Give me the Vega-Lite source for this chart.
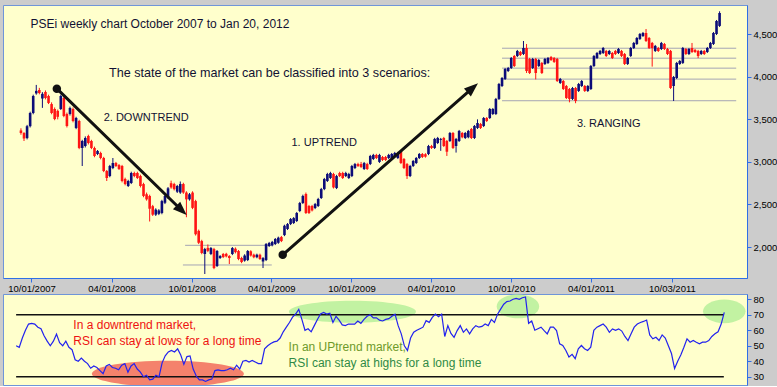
{
"$schema":"https://vega.github.io/schema/vega-lite/v6.json",
"background":"#cccccc",
"padding":{"left":2,"top":4,"right":0,"bottom":0},
"bounds":"flush",
"spacing":16,
"config":{
 "view":{"fill":"#ffffcc","stroke":"#6f95d8","strokeWidth":1},
 "axis":{"grid":false,"domainColor":"#2f6fe6","tickColor":"#2f6fe6","labelColor":"#000000","labelFont":"Liberation Sans","labelFontSize":9.5,"tickSize":4}
},
"datasets":{
"w":[
{"d":"2007-09-07","o":3370,"h":3395,"l":3320,"c":3340,"r":50},
{"d":"2007-09-14","o":3340,"h":3350,"l":3246,"c":3275,"r":49},
{"d":"2007-09-21","o":3280,"h":3435,"l":3265,"c":3420,"r":55},
{"d":"2007-09-28","o":3420,"h":3590,"l":3405,"c":3575,"r":60},
{"d":"2007-10-05","o":3575,"h":3790,"l":3560,"c":3775,"r":64},
{"d":"2007-10-12","o":3805,"h":3905,"l":3790,"c":3835,"r":64.5},
{"d":"2007-10-19","o":3845,"h":3870,"l":3795,"c":3810,"r":64},
{"d":"2007-10-26","o":3745,"h":3820,"l":3635,"c":3800,"r":62},
{"d":"2007-11-02","o":3822,"h":3840,"l":3735,"c":3751,"r":61},
{"d":"2007-11-09","o":3775,"h":3790,"l":3680,"c":3693,"r":56.5},
{"d":"2007-11-16","o":3680,"h":3700,"l":3560,"c":3575,"r":53},
{"d":"2007-11-23","o":3622,"h":3640,"l":3490,"c":3504,"r":50},
{"d":"2007-11-30","o":3600,"h":3615,"l":3500,"c":3530,"r":53},
{"d":"2007-12-07","o":3622,"h":3790,"l":3610,"c":3775,"r":57.5},
{"d":"2007-12-14","o":3751,"h":3765,"l":3525,"c":3540,"r":52},
{"d":"2007-12-21","o":3563,"h":3580,"l":3405,"c":3422,"r":50},
{"d":"2007-12-28","o":3563,"h":3650,"l":3545,"c":3634,"r":53},
{"d":"2008-01-04","o":3622,"h":3640,"l":3465,"c":3481,"r":49},
{"d":"2008-01-11","o":3399,"h":3530,"l":3385,"c":3516,"r":47.5},
{"d":"2008-01-18","o":3481,"h":3495,"l":3150,"c":3164,"r":41},
{"d":"2008-01-25","o":3164,"h":3260,"l":2952,"c":3246,"r":40},
{"d":"2008-02-01","o":3187,"h":3300,"l":3170,"c":3281,"r":42},
{"d":"2008-02-08","o":3305,"h":3320,"l":3205,"c":3222,"r":40},
{"d":"2008-02-15","o":3246,"h":3260,"l":3150,"c":3164,"r":38.5},
{"d":"2008-02-22","o":3164,"h":3180,"l":3055,"c":3070,"r":35.5},
{"d":"2008-02-29","o":3093,"h":3140,"l":3080,"c":3128,"r":37},
{"d":"2008-03-07","o":3105,"h":3120,"l":3030,"c":3046,"r":36},
{"d":"2008-03-14","o":3046,"h":3060,"l":2880,"c":2893,"r":34},
{"d":"2008-03-21","o":2893,"h":2905,"l":2776,"c":2811,"r":32},
{"d":"2008-03-28","o":2834,"h":2965,"l":2820,"c":2952,"r":37},
{"d":"2008-04-04","o":2928,"h":3046,"l":2915,"c":2987,"r":38},
{"d":"2008-04-11","o":2987,"h":3000,"l":2940,"c":2952,"r":36},
{"d":"2008-04-18","o":2963,"h":2975,"l":2905,"c":2917,"r":35.5},
{"d":"2008-04-25","o":2952,"h":2965,"l":2760,"c":2776,"r":34.5},
{"d":"2008-05-02","o":2800,"h":2815,"l":2725,"c":2740,"r":37.5},
{"d":"2008-05-09","o":2717,"h":2790,"l":2705,"c":2776,"r":38.5},
{"d":"2008-05-16","o":2752,"h":2885,"l":2740,"c":2870,"r":33},
{"d":"2008-05-23","o":2870,"h":2885,"l":2820,"c":2834,"r":37},
{"d":"2008-05-30","o":2870,"h":2885,"l":2800,"c":2811,"r":38.5},
{"d":"2008-06-06","o":2834,"h":2850,"l":2700,"c":2717,"r":35},
{"d":"2008-06-13","o":2740,"h":2755,"l":2585,"c":2600,"r":33},
{"d":"2008-06-20","o":2620,"h":2640,"l":2545,"c":2560,"r":30},
{"d":"2008-06-27","o":2600,"h":2615,"l":2300,"c":2450,"r":31},
{"d":"2008-07-04","o":2480,"h":2495,"l":2365,"c":2380,"r":28},
{"d":"2008-07-11","o":2380,"h":2455,"l":2365,"c":2440,"r":28.5},
{"d":"2008-07-18","o":2390,"h":2445,"l":2375,"c":2430,"r":31},
{"d":"2008-07-25","o":2400,"h":2555,"l":2385,"c":2540,"r":30},
{"d":"2008-08-01","o":2520,"h":2615,"l":2505,"c":2600,"r":39},
{"d":"2008-08-08","o":2580,"h":2705,"l":2565,"c":2690,"r":43.5},
{"d":"2008-08-15","o":2750,"h":2780,"l":2685,"c":2700,"r":46},
{"d":"2008-08-22","o":2740,"h":2755,"l":2665,"c":2680,"r":47},
{"d":"2008-08-29","o":2650,"h":2730,"l":2635,"c":2717,"r":46},
{"d":"2008-09-05","o":2640,"h":2770,"l":2625,"c":2740,"r":48},
{"d":"2008-09-12","o":2740,"h":2755,"l":2625,"c":2640,"r":44},
{"d":"2008-09-19","o":2640,"h":2655,"l":2350,"c":2560,"r":38},
{"d":"2008-09-26","o":2560,"h":2635,"l":2545,"c":2620,"r":43},
{"d":"2008-10-03","o":2640,"h":2655,"l":2445,"c":2460,"r":43.5},
{"d":"2008-10-10","o":2540,"h":2555,"l":2135,"c":2150,"r":35},
{"d":"2008-10-17","o":2190,"h":2205,"l":2035,"c":2050,"r":30.5},
{"d":"2008-10-24","o":2070,"h":2085,"l":1915,"c":1930,"r":28},
{"d":"2008-10-31","o":1918,"h":1990,"l":1683,"c":1976,"r":28},
{"d":"2008-11-07","o":1990,"h":2030,"l":1940,"c":1955,"r":27},
{"d":"2008-11-14","o":1918,"h":2000,"l":1905,"c":1988,"r":28},
{"d":"2008-11-21","o":1976,"h":1990,"l":1740,"c":1753,"r":28.5},
{"d":"2008-11-28","o":1777,"h":1965,"l":1765,"c":1953,"r":34},
{"d":"2008-12-05","o":1871,"h":1905,"l":1860,"c":1894,"r":34.5},
{"d":"2008-12-12","o":1918,"h":1930,"l":1870,"c":1882,"r":34},
{"d":"2008-12-19","o":1920,"h":1932,"l":1878,"c":1890,"r":34},
{"d":"2008-12-26","o":1894,"h":1905,"l":1800,"c":1871,"r":34.5},
{"d":"2009-01-02","o":1918,"h":2000,"l":1905,"c":1988,"r":35.5},
{"d":"2009-01-09","o":1980,"h":1995,"l":1925,"c":1940,"r":34.5},
{"d":"2009-01-16","o":1953,"h":1965,"l":1845,"c":1859,"r":37.5},
{"d":"2009-01-23","o":1871,"h":1885,"l":1810,"c":1824,"r":35},
{"d":"2009-01-30","o":1840,"h":1915,"l":1828,"c":1900,"r":40},
{"d":"2009-02-06","o":1847,"h":1965,"l":1835,"c":1953,"r":40.5},
{"d":"2009-02-13","o":1950,"h":1962,"l":1888,"c":1900,"r":39.5},
{"d":"2009-02-20","o":1910,"h":1922,"l":1868,"c":1880,"r":40.5},
{"d":"2009-02-27","o":1880,"h":1922,"l":1868,"c":1910,"r":39.5},
{"d":"2009-03-06","o":1910,"h":1922,"l":1848,"c":1860,"r":38.5},
{"d":"2009-03-13","o":1830,"h":1882,"l":1753,"c":1870,"r":38.5},
{"d":"2009-03-20","o":1847,"h":2047,"l":1835,"c":2035,"r":48},
{"d":"2009-03-27","o":2012,"h":2060,"l":2000,"c":2047,"r":50},
{"d":"2009-04-03","o":2020,"h":2072,"l":2008,"c":2060,"r":51.5},
{"d":"2009-04-10","o":2035,"h":2106,"l":2023,"c":2094,"r":52.5},
{"d":"2009-04-17","o":2050,"h":2122,"l":2038,"c":2110,"r":53},
{"d":"2009-04-24","o":2117,"h":2130,"l":2058,"c":2070,"r":55},
{"d":"2009-05-01","o":2140,"h":2262,"l":2128,"c":2250,"r":59},
{"d":"2009-05-08","o":2212,"h":2282,"l":2200,"c":2270,"r":62},
{"d":"2009-05-15","o":2270,"h":2341,"l":2258,"c":2329,"r":65},
{"d":"2009-05-22","o":2282,"h":2352,"l":2270,"c":2340,"r":68.5},
{"d":"2009-05-29","o":2306,"h":2412,"l":2294,"c":2400,"r":70.5},
{"d":"2009-06-05","o":2423,"h":2530,"l":2410,"c":2517,"r":73.5},
{"d":"2009-06-12","o":2517,"h":2615,"l":2505,"c":2600,"r":67},
{"d":"2009-06-19","o":2623,"h":2640,"l":2388,"c":2400,"r":60},
{"d":"2009-06-26","o":2482,"h":2495,"l":2388,"c":2400,"r":61},
{"d":"2009-07-03","o":2482,"h":2495,"l":2418,"c":2430,"r":59},
{"d":"2009-07-10","o":2458,"h":2518,"l":2445,"c":2505,"r":63},
{"d":"2009-07-17","o":2482,"h":2578,"l":2470,"c":2564,"r":67},
{"d":"2009-07-24","o":2576,"h":2695,"l":2564,"c":2681,"r":70.5},
{"d":"2009-07-31","o":2681,"h":2812,"l":2668,"c":2799,"r":71.5},
{"d":"2009-08-07","o":2776,"h":2872,"l":2764,"c":2858,"r":70.5},
{"d":"2009-08-14","o":2811,"h":2884,"l":2799,"c":2870,"r":71},
{"d":"2009-08-21","o":2858,"h":2872,"l":2688,"c":2700,"r":65},
{"d":"2009-08-28","o":2693,"h":2848,"l":2681,"c":2834,"r":69},
{"d":"2009-09-04","o":2870,"h":2884,"l":2822,"c":2834,"r":66.5},
{"d":"2009-09-11","o":2870,"h":2884,"l":2799,"c":2811,"r":63.5},
{"d":"2009-09-18","o":2834,"h":2884,"l":2822,"c":2870,"r":63},
{"d":"2009-09-25","o":2811,"h":2872,"l":2799,"c":2858,"r":64},
{"d":"2009-10-02","o":2834,"h":2965,"l":2822,"c":2952,"r":64},
{"d":"2009-10-09","o":2928,"h":2988,"l":2916,"c":2975,"r":64},
{"d":"2009-10-16","o":2975,"h":2990,"l":2940,"c":2952,"r":66},
{"d":"2009-10-23","o":2975,"h":3000,"l":2928,"c":2940,"r":64.5},
{"d":"2009-10-30","o":2917,"h":3000,"l":2905,"c":2987,"r":67},
{"d":"2009-11-06","o":2975,"h":2990,"l":2905,"c":2917,"r":69},
{"d":"2009-11-13","o":2975,"h":3083,"l":2963,"c":3070,"r":70},
{"d":"2009-11-20","o":3034,"h":3095,"l":3022,"c":3082,"r":68},
{"d":"2009-11-27","o":3082,"h":3095,"l":3034,"c":3046,"r":68},
{"d":"2009-12-04","o":3000,"h":3095,"l":2988,"c":3082,"r":66.5},
{"d":"2009-12-11","o":3058,"h":3070,"l":3011,"c":3023,"r":66},
{"d":"2009-12-18","o":3058,"h":3070,"l":3011,"c":3023,"r":67},
{"d":"2009-12-25","o":3046,"h":3095,"l":3034,"c":3082,"r":67.5},
{"d":"2010-01-01","o":3046,"h":3105,"l":3034,"c":3093,"r":69},
{"d":"2010-01-08","o":3070,"h":3118,"l":3058,"c":3105,"r":70.4},
{"d":"2010-01-15","o":3046,"h":3118,"l":3034,"c":3105,"r":63},
{"d":"2010-01-22","o":3128,"h":3140,"l":2975,"c":2987,"r":57.7},
{"d":"2010-01-29","o":3034,"h":3046,"l":2916,"c":2928,"r":50},
{"d":"2010-02-05","o":2975,"h":2988,"l":2800,"c":2834,"r":47},
{"d":"2010-02-12","o":2834,"h":2965,"l":2822,"c":2952,"r":55},
{"d":"2010-02-19","o":2952,"h":3023,"l":2940,"c":3011,"r":58.7},
{"d":"2010-02-26","o":2987,"h":3058,"l":2975,"c":3046,"r":60},
{"d":"2010-03-05","o":3046,"h":3105,"l":3034,"c":3093,"r":61},
{"d":"2010-03-12","o":3093,"h":3105,"l":3046,"c":3058,"r":62},
{"d":"2010-03-19","o":3090,"h":3102,"l":3050,"c":3062,"r":66.2},
{"d":"2010-03-26","o":3093,"h":3200,"l":3080,"c":3187,"r":65.1},
{"d":"2010-04-02","o":3187,"h":3200,"l":3152,"c":3164,"r":68.3},
{"d":"2010-04-09","o":3164,"h":3283,"l":3152,"c":3270,"r":70.4},
{"d":"2010-04-16","o":3222,"h":3294,"l":3210,"c":3281,"r":68.7},
{"d":"2010-04-23","o":3260,"h":3282,"l":3130,"c":3270,"r":70.4},
{"d":"2010-04-30","o":3281,"h":3294,"l":3175,"c":3187,"r":56},
{"d":"2010-05-07","o":3246,"h":3258,"l":3070,"c":3120,"r":63},
{"d":"2010-05-14","o":3246,"h":3352,"l":3234,"c":3340,"r":58},
{"d":"2010-05-21","o":3340,"h":3352,"l":3152,"c":3164,"r":55.5},
{"d":"2010-05-28","o":3187,"h":3282,"l":3110,"c":3270,"r":59.8},
{"d":"2010-06-04","o":3246,"h":3376,"l":3234,"c":3364,"r":63},
{"d":"2010-06-11","o":3340,"h":3352,"l":3278,"c":3290,"r":58.7},
{"d":"2010-06-18","o":3281,"h":3352,"l":3269,"c":3340,"r":60.9},
{"d":"2010-06-25","o":3290,"h":3376,"l":3278,"c":3364,"r":57.7},
{"d":"2010-07-02","o":3387,"h":3399,"l":3269,"c":3281,"r":60.9},
{"d":"2010-07-09","o":3281,"h":3434,"l":3269,"c":3422,"r":63},
{"d":"2010-07-16","o":3399,"h":3500,"l":3387,"c":3457,"r":62},
{"d":"2010-07-23","o":3446,"h":3458,"l":3387,"c":3399,"r":62.5},
{"d":"2010-07-30","o":3422,"h":3528,"l":3410,"c":3516,"r":64},
{"d":"2010-08-06","o":3516,"h":3528,"l":3469,"c":3481,"r":63},
{"d":"2010-08-13","o":3516,"h":3634,"l":3504,"c":3622,"r":67},
{"d":"2010-08-20","o":3563,"h":3634,"l":3551,"c":3622,"r":65},
{"d":"2010-08-27","o":3563,"h":3752,"l":3551,"c":3740,"r":70.4},
{"d":"2010-09-03","o":3740,"h":3928,"l":3728,"c":3916,"r":73.6},
{"d":"2010-09-10","o":3892,"h":3998,"l":3880,"c":3986,"r":76.8},
{"d":"2010-09-17","o":3975,"h":4104,"l":3963,"c":4092,"r":78.5},
{"d":"2010-09-24","o":4068,"h":4116,"l":4056,"c":4104,"r":78.9},
{"d":"2010-10-01","o":4104,"h":4233,"l":4092,"c":4221,"r":80},
{"d":"2010-10-08","o":4245,"h":4257,"l":4115,"c":4127,"r":80.6},
{"d":"2010-10-15","o":4245,"h":4316,"l":4233,"c":4304,"r":80},
{"d":"2010-10-22","o":4292,"h":4304,"l":4244,"c":4256,"r":81},
{"d":"2010-10-29","o":4268,"h":4421,"l":4256,"c":4339,"r":81.5},
{"d":"2010-11-05","o":4339,"h":4386,"l":4045,"c":4068,"r":64.5},
{"d":"2010-11-12","o":4210,"h":4222,"l":4033,"c":4045,"r":66},
{"d":"2010-11-19","o":4104,"h":4222,"l":4092,"c":4210,"r":60},
{"d":"2010-11-26","o":4210,"h":4222,"l":3970,"c":4045,"r":61},
{"d":"2010-12-03","o":4127,"h":4210,"l":4115,"c":4198,"r":62},
{"d":"2010-12-10","o":4163,"h":4175,"l":4033,"c":4045,"r":59.8},
{"d":"2010-12-17","o":4151,"h":4222,"l":4139,"c":4210,"r":57.7},
{"d":"2010-12-24","o":4163,"h":4233,"l":4151,"c":4221,"r":62},
{"d":"2010-12-31","o":4233,"h":4245,"l":4186,"c":4198,"r":62},
{"d":"2011-01-07","o":4221,"h":4233,"l":4163,"c":4175,"r":59.8},
{"d":"2011-01-14","o":4210,"h":4222,"l":3939,"c":3951,"r":51.3},
{"d":"2011-01-21","o":3928,"h":3987,"l":3916,"c":3975,"r":50.2},
{"d":"2011-01-28","o":3951,"h":3963,"l":3845,"c":3857,"r":47},
{"d":"2011-02-04","o":3892,"h":3904,"l":3739,"c":3751,"r":42.8},
{"d":"2011-02-11","o":3857,"h":3869,"l":3700,"c":3740,"r":44.5},
{"d":"2011-02-18","o":3740,"h":3881,"l":3728,"c":3869,"r":41.7},
{"d":"2011-02-25","o":3869,"h":3881,"l":3690,"c":3716,"r":48.1},
{"d":"2011-03-04","o":3834,"h":3928,"l":3822,"c":3916,"r":50.2},
{"d":"2011-03-11","o":3892,"h":3963,"l":3880,"c":3951,"r":48.1},
{"d":"2011-03-18","o":3892,"h":3904,"l":3822,"c":3834,"r":47},
{"d":"2011-03-25","o":3834,"h":3904,"l":3822,"c":3892,"r":49.1},
{"d":"2011-04-01","o":3857,"h":4139,"l":3845,"c":4127,"r":60},
{"d":"2011-04-08","o":4127,"h":4257,"l":4115,"c":4245,"r":62},
{"d":"2011-04-15","o":4221,"h":4292,"l":4209,"c":4280,"r":63},
{"d":"2011-04-22","o":4268,"h":4316,"l":4256,"c":4304,"r":64},
{"d":"2011-04-29","o":4280,"h":4351,"l":4268,"c":4339,"r":62},
{"d":"2011-05-06","o":4304,"h":4316,"l":4233,"c":4245,"r":58.7},
{"d":"2011-05-13","o":4268,"h":4316,"l":4256,"c":4304,"r":60.9},
{"d":"2011-05-20","o":4280,"h":4292,"l":4209,"c":4221,"r":60},
{"d":"2011-05-27","o":4304,"h":4316,"l":4256,"c":4268,"r":60.9},
{"d":"2011-06-03","o":4280,"h":4339,"l":4268,"c":4327,"r":59.5},
{"d":"2011-06-10","o":4304,"h":4316,"l":4233,"c":4245,"r":56},
{"d":"2011-06-17","o":4268,"h":4280,"l":4139,"c":4151,"r":53.4},
{"d":"2011-06-24","o":4151,"h":4233,"l":4139,"c":4221,"r":57.7},
{"d":"2011-07-01","o":4245,"h":4351,"l":4233,"c":4339,"r":62},
{"d":"2011-07-08","o":4339,"h":4410,"l":4327,"c":4398,"r":64},
{"d":"2011-07-15","o":4386,"h":4468,"l":4374,"c":4456,"r":65},
{"d":"2011-07-22","o":4445,"h":4515,"l":4433,"c":4503,"r":65.7},
{"d":"2011-07-29","o":4480,"h":4527,"l":4468,"c":4515,"r":66.6},
{"d":"2011-08-05","o":4515,"h":4562,"l":4409,"c":4421,"r":57},
{"d":"2011-08-12","o":4456,"h":4468,"l":4327,"c":4339,"r":54.5},
{"d":"2011-08-19","o":4398,"h":4410,"l":4120,"c":4339,"r":55.5},
{"d":"2011-08-26","o":4304,"h":4375,"l":4292,"c":4363,"r":53.4},
{"d":"2011-09-02","o":4339,"h":4351,"l":4292,"c":4304,"r":57},
{"d":"2011-09-09","o":4327,"h":4410,"l":4315,"c":4398,"r":55},
{"d":"2011-09-16","o":4386,"h":4398,"l":4315,"c":4327,"r":50},
{"d":"2011-09-23","o":4327,"h":4339,"l":4256,"c":4268,"r":45},
{"d":"2011-09-30","o":4304,"h":4316,"l":3857,"c":3869,"r":35.3},
{"d":"2011-10-07","o":3892,"h":4010,"l":3716,"c":3998,"r":40},
{"d":"2011-10-14","o":3986,"h":4175,"l":3974,"c":4163,"r":44},
{"d":"2011-10-21","o":4151,"h":4198,"l":4139,"c":4186,"r":49},
{"d":"2011-10-28","o":4163,"h":4351,"l":4151,"c":4339,"r":54.5},
{"d":"2011-11-04","o":4327,"h":4339,"l":4256,"c":4268,"r":52.3},
{"d":"2011-11-11","o":4268,"h":4339,"l":4256,"c":4327,"r":53.4},
{"d":"2011-11-18","o":4339,"h":4398,"l":4280,"c":4292,"r":52.3},
{"d":"2011-11-25","o":4316,"h":4328,"l":4280,"c":4292,"r":51.3},
{"d":"2011-12-02","o":4304,"h":4316,"l":4220,"c":4245,"r":52.3},
{"d":"2011-12-09","o":4268,"h":4316,"l":4256,"c":4304,"r":52.3},
{"d":"2011-12-16","o":4304,"h":4316,"l":4256,"c":4268,"r":53.4},
{"d":"2011-12-23","o":4292,"h":4351,"l":4280,"c":4339,"r":56},
{"d":"2011-12-30","o":4339,"h":4410,"l":4327,"c":4398,"r":57.7},
{"d":"2012-01-06","o":4386,"h":4527,"l":4374,"c":4515,"r":59},
{"d":"2012-01-13","o":4503,"h":4668,"l":4491,"c":4656,"r":64},
{"d":"2012-01-20","o":4598,"h":4770,"l":4586,"c":4750,"r":71.5}
],
"levels":[
{"x1":"2010-09-10","x2":"2012-02-27","v":4336},
{"x1":"2010-09-10","x2":"2012-02-27","v":4219},
{"x1":"2010-09-10","x2":"2012-02-27","v":4102},
{"x1":"2010-09-08","x2":"2012-02-27","v":3973},
{"x1":"2010-09-10","x2":"2012-02-27","v":3719},
{"x1":"2008-09-16","x2":"2009-04-03","v":2020},
{"x1":"2008-09-11","x2":"2009-04-02","v":1789}
],
"arrows":[
{"x1":"2007-11-28","v1":3861,"x2":"2008-09-08","v2":2432},
{"x1":"2009-04-27","v1":1909,"x2":"2010-07-05","v2":3870}
],
"dots":[
{"x":"2007-11-28","v":3861},
{"x":"2009-04-27","v":1909}
],
"rsilines":[
{"x1":"2007-09-07","x2":"2012-01-19","v":70},
{"x1":"2007-09-07","x2":"2012-01-19","v":30}
]
},
"vconcat":[
{
"width":744,"height":273,
"layer":[
{"data":{"name":"levels"},"mark":{"type":"rule","color":"#a4a4b4","strokeWidth":1},
 "encoding":{"x":{"field":"x1","type":"temporal","title":null,"scale":{"type":"utc","domain":[{"year":2007,"month":8,"date":8,"hours":10,"utc":true},{"year":2012,"month":3,"date":11,"hours":5,"utc":true}]},
   "axis":{"title":null,"values":[{"year":2007,"month":10,"date":1,"utc":true},{"year":2008,"month":4,"date":1,"utc":true},{"year":2008,"month":10,"date":1,"utc":true},{"year":2009,"month":4,"date":1,"utc":true},{"year":2009,"month":10,"date":1,"utc":true},{"year":2010,"month":4,"date":1,"utc":true},{"year":2010,"month":10,"date":1,"utc":true},{"year":2011,"month":4,"date":1,"utc":true},{"year":2011,"month":10,"date":3,"utc":true}],"tickCount":20,"format":"%m/%d/%Y","labelPadding":1,"labelOverlap":false,"labelFlush":false}},
  "x2":{"field":"x2"},
  "y":{"field":"v","type":"quantitative","title":null,"scale":{"domain":[1636,4844],"zero":false,"nice":false},
   "axis":{"title":null,"orient":"right","values":[2000,2500,3000,3500,4000,4500],"tickCount":10,"format":",.0f","labelPadding":2,"labelOverlap":false,"labelFlush":false}}}},
{"data":{"name":"w"},"mark":{"type":"rule","strokeWidth":1},
 "encoding":{"x":{"field":"d","type":"temporal","title":null,"scale":{"type":"utc"}},
  "y":{"field":"l","type":"quantitative","title":null},"y2":{"field":"h"},
  "color":{"condition":{"test":"datum.c >= datum.o","value":"#0c0c78"},"value":"#ff1414"}}},
{"data":{"name":"w"},"mark":{"type":"bar","size":2.6},
 "encoding":{"x":{"field":"d","type":"temporal","title":null,"scale":{"type":"utc"}},
  "y":{"field":"o","type":"quantitative","title":null},"y2":{"field":"c"},
  "color":{"condition":{"test":"datum.c >= datum.o","value":"#0c0c78"},"value":"#ff1414"}}},
{"data":{"name":"arrows"},"mark":{"type":"rule","color":"#111111","strokeWidth":3,"strokeCap":"round"},
 "encoding":{"x":{"field":"x1","type":"temporal","title":null,"scale":{"type":"utc"}},"x2":{"field":"x2"},
  "y":{"field":"v1","type":"quantitative","title":null},"y2":{"field":"v2"}}},
{"data":{"values":[{"x":"2008-09-08","v":2432}]},"mark":{"type":"point","shape":"M 1 0 L -1 -0.75 L -1 0.75 Z","filled":true,"size":196,"angle":43.8,"color":"#111111","opacity":1},
 "encoding":{"x":{"field":"x","type":"temporal","title":null,"scale":{"type":"utc"}},"y":{"field":"v","type":"quantitative","title":null}}},
{"data":{"values":[{"x":"2010-07-05","v":3870}]},"mark":{"type":"point","shape":"M 1 0 L -1 -0.75 L -1 0.75 Z","filled":true,"size":196,"angle":319.1,"color":"#111111","opacity":1},
 "encoding":{"x":{"field":"x","type":"temporal","title":null,"scale":{"type":"utc"}},"y":{"field":"v","type":"quantitative","title":null}}},
{"data":{"name":"dots"},"mark":{"type":"point","shape":"circle","filled":true,"size":72,"color":"#111111","opacity":1},
 "encoding":{"x":{"field":"x","type":"temporal","title":null,"scale":{"type":"utc"}},"y":{"field":"v","type":"quantitative","title":null}}},
{"data":{"values":[{"x":"2007-09-29","v":4571,"t":"PSEi weekly chart October 2007 to Jan 20, 2012"}]},
 "mark":{"type":"text","align":"left","baseline":"alphabetic","font":"Liberation Sans","fontSize":12,"color":"#111133"},
 "encoding":{"x":{"field":"x","type":"temporal","title":null,"scale":{"type":"utc"}},"y":{"field":"v","type":"quantitative","title":null},"text":{"field":"t"}}},
{"data":{"values":[{"x":"2008-03-26","v":3998,"t":"The state of the market can be classified into 3 scenarios:"}]},
 "mark":{"type":"text","align":"left","baseline":"alphabetic","font":"Liberation Sans","fontSize":12.6,"color":"#111133"},
 "encoding":{"x":{"field":"x","type":"temporal","title":null,"scale":{"type":"utc"}},"y":{"field":"v","type":"quantitative","title":null},"text":{"field":"t"}}},
{"data":{"values":[{"x":"2008-03-14","v":3481,"t":"2. DOWNTREND"},{"x":"2009-05-17","v":3187,"t":"1. UPTREND"},{"x":"2011-02-28","v":3410,"t":"3. RANGING"}]},
 "mark":{"type":"text","align":"left","baseline":"alphabetic","font":"Liberation Sans","fontSize":11,"color":"#111133"},
 "encoding":{"x":{"field":"x","type":"temporal","title":null,"scale":{"type":"utc"}},"y":{"field":"v","type":"quantitative","title":null},"text":{"field":"t"}}}
]
},
{
"width":744,"height":91,
"layer":[
{"data":{"values":[{"x":"2008-08-14","v":32}]},"mark":{"type":"point","shape":"M 1 0 C 1 0.094 0.552 0.171 0 0.171 C -0.552 0.171 -1 0.094 -1 0 C -1 -0.094 -0.552 -0.171 0 -0.171 C 0.552 -0.171 1 -0.094 1 0 Z","filled":true,"size":23104,"color":"#f4826c","opacity":1,"clip":true},
 "encoding":{"x":{"field":"x","type":"temporal","title":null,"scale":{"type":"utc","domain":[{"year":2007,"month":8,"date":8,"hours":10,"utc":true},{"year":2012,"month":3,"date":11,"hours":5,"utc":true}]},"axis":null},
  "y":{"field":"v","type":"quantitative","title":null,"scale":{"domain":[24.7,83.4],"zero":false,"nice":false},
   "axis":{"title":null,"orient":"right","values":[30,40,50,60,70,80],"tickCount":10,"labelPadding":2,"labelOverlap":false,"labelFlush":false}}}},
{"data":{"values":[{"x":"2009-10-04","v":71.9}]},"mark":{"type":"point","shape":"M 1 0 C 1 0.095 0.552 0.173 0 0.173 C -0.552 0.173 -1 0.095 -1 0 C -1 -0.095 -0.552 -0.173 0 -0.173 C 0.552 -0.173 1 -0.095 1 0 Z","filled":true,"size":16129,"color":"#c2f2a2","opacity":1,"clip":true},
 "encoding":{"x":{"field":"x","type":"temporal","title":null,"scale":{"type":"utc"}},"y":{"field":"v","type":"quantitative","title":null}}},
{"data":{"values":[{"x":"2010-10-12","v":75.4},{"x":"2012-01-20","v":72.2}]},"mark":{"type":"point","shape":"M 1 0 C 1 0.309 0.552 0.56 0 0.56 C -0.552 0.56 -1 0.309 -1 0 C -1 -0.309 -0.552 -0.56 0 -0.56 C 0.552 -0.56 1 -0.309 1 0 Z","filled":true,"size":1806,"color":"#c2f2a2","opacity":1,"clip":true},
 "encoding":{"x":{"field":"x","type":"temporal","title":null,"scale":{"type":"utc"}},"y":{"field":"v","type":"quantitative","title":null}}},
{"data":{"name":"rsilines"},"mark":{"type":"rule","color":"#111111","strokeWidth":1.5},
 "encoding":{"x":{"field":"x1","type":"temporal","title":null,"scale":{"type":"utc"}},"x2":{"field":"x2"},"y":{"field":"v","type":"quantitative","title":null}}},
{"data":{"name":"w"},"mark":{"type":"line","color":"#2222ee","strokeWidth":1.2},
 "encoding":{"x":{"field":"d","type":"temporal","title":null,"scale":{"type":"utc"}},"y":{"field":"r","type":"quantitative","title":null}}},
{"data":{"values":[{"x":"2008-01-14","v":60.6,"t":"In a downtrend market,"},{"x":"2008-01-14","v":50.7,"t":"RSI can stay at lows for a long time"}]},
 "mark":{"type":"text","align":"left","baseline":"alphabetic","font":"Liberation Sans","fontSize":12,"color":"#ee1111"},
 "encoding":{"x":{"field":"x","type":"temporal","title":null,"scale":{"type":"utc"}},"y":{"field":"v","type":"quantitative","title":null},"text":{"field":"t"}}},
{"data":{"values":[{"x":"2009-05-13","v":46.4,"t":"In an UPtrend market,"}]},
 "mark":{"type":"text","align":"left","baseline":"alphabetic","font":"Liberation Sans","fontSize":12,"color":"#6e9a2a"},
 "encoding":{"x":{"field":"x","type":"temporal","title":null,"scale":{"type":"utc"}},"y":{"field":"v","type":"quantitative","title":null},"text":{"field":"t"}}},
{"data":{"values":[{"x":"2009-05-13","v":36.4,"t":"RSI can stay at highs for a long time"}]},
 "mark":{"type":"text","align":"left","baseline":"alphabetic","font":"Liberation Sans","fontSize":12,"color":"#2f8a46"},
 "encoding":{"x":{"field":"x","type":"temporal","title":null,"scale":{"type":"utc"}},"y":{"field":"v","type":"quantitative","title":null},"text":{"field":"t"}}}
]
}
]
}
